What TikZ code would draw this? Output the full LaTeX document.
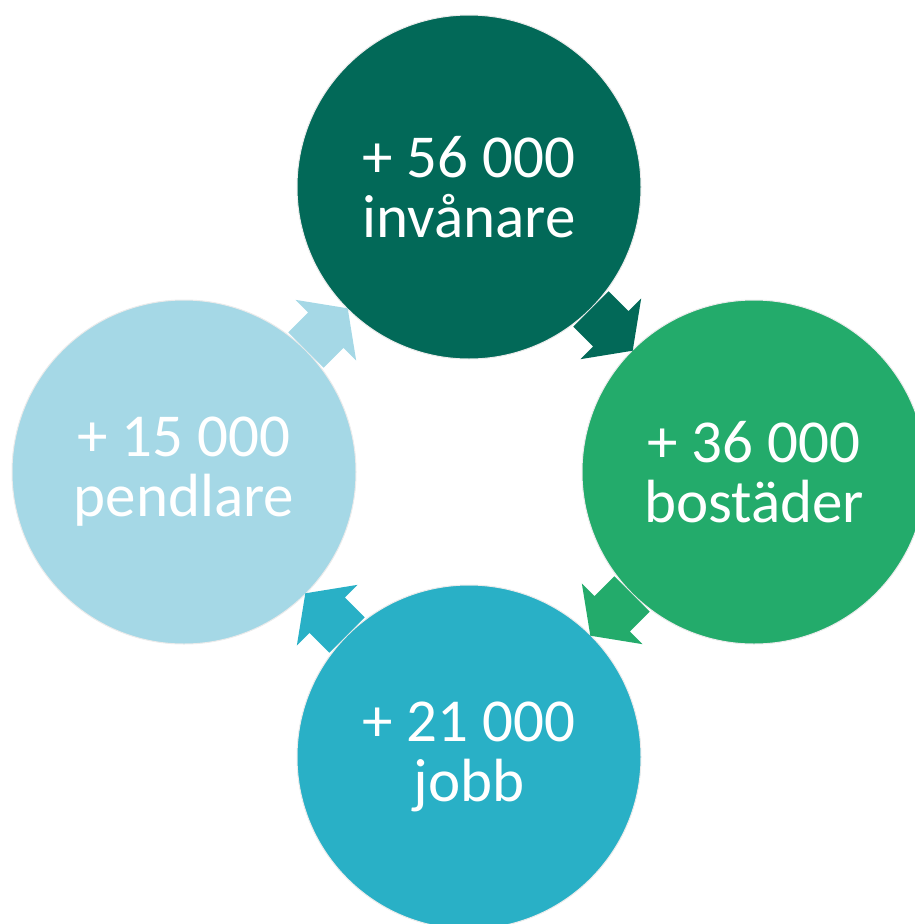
\documentclass[tikz,border=0pt]{standalone}
\usepackage{fontspec}
\setmainfont{Carlito}
\definecolor{cTop}{RGB}{2,105,88}
\definecolor{cRight}{RGB}{35,171,107}
\definecolor{cBottom}{RGB}{41,176,198}
\definecolor{cLeft}{RGB}{165,216,230}
\begin{document}
\begin{tikzpicture}[x=1pt,y=-1pt,
  bubble/.style={circle,minimum size=344pt,inner sep=0pt,draw=white!92!black,line width=1pt,
    text=white,align=center,font=\fontsize{61}{60}\selectfont},
  blockarrow/.style={draw=white!92!black,line width=0.6pt}]
\useasboundingbox (0,0) rectangle (915,924);
\clip (0,0) rectangle (915,924);
\node[bubble,fill=cTop] (top) at (469,187) {+ 56 000\\invånare};
\node[bubble,fill=cRight] (right) at (754,472) {+ 36 000\\bostäder};
\node[bubble,fill=cBottom] (bottom) at (469,757) {+ 21 000\\jobb};
\node[bubble,fill=cLeft] (left) at (184,472) {+ 15 000\\pendlare};
\def\arrowshape{(0,-25) -- (28,-25) -- (28,-43) -- (59,0) -- (28,43) -- (28,25) -- (0,25) -- cycle}
\begin{scope}[shift={(top.-45)},rotate=-45]
  \fill[cTop] \arrowshape;
\end{scope}
\begin{scope}[shift={(right.-135)},rotate=-135]
  \fill[cRight] \arrowshape;
\end{scope}
\begin{scope}[shift={(bottom.135)},rotate=135]
  \fill[cBottom] \arrowshape;
\end{scope}
\begin{scope}[shift={(left.45)},rotate=45]
  \fill[cLeft] \arrowshape;
\end{scope}
\end{tikzpicture}
\end{document}
